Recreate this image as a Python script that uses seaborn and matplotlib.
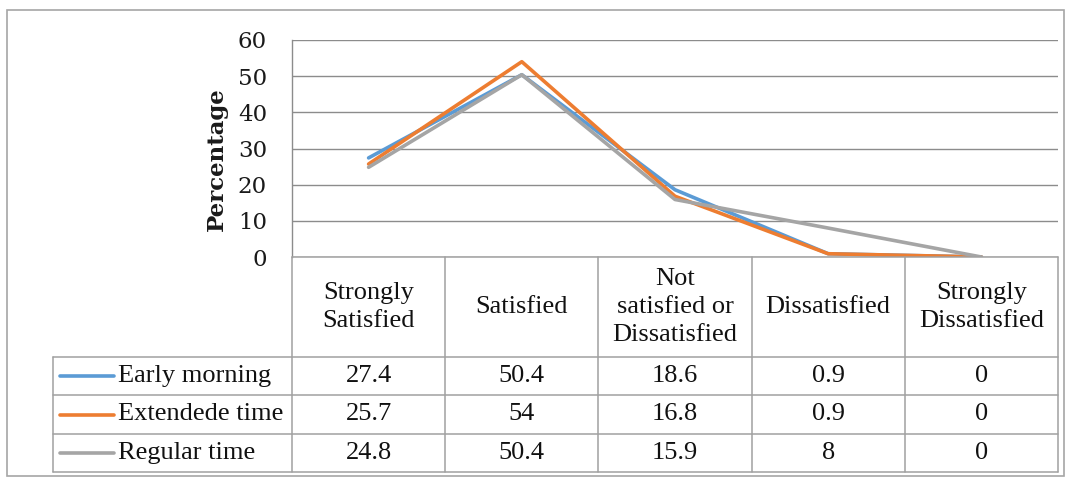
import matplotlib
matplotlib.use("Agg")
import matplotlib.pyplot as plt
import seaborn as sns
import pandas as pd
from matplotlib.patches import Rectangle

# --- data -------------------------------------------------------------
categories = ["Strongly\nSatisfied", "Satisfied", "Not\nsatisfied or\nDissatisfied",
              "Dissatisfied", "Strongly\nDissatisfied"]
series_names = ["Early morning", "Extendede time", "Regular time"]
early_morning = [27.4, 50.4, 18.6, 0.9, 0]
extended_time = [25.7, 54, 16.8, 0.9, 0]
regular_time = [24.8, 50.4, 15.9, 8, 0]
y_ticks = [0, 10, 20, 30, 40, 50, 60]
y_label = "Percentage"

colors = ["#5B9BD5", "#ED7D31", "#A5A5A5"]
series_values = [early_morning, extended_time, regular_time]

records = []
for name, vals in zip(series_names, series_values):
    for i, v in enumerate(vals):
        records.append({"series": name, "pos": i, "value": v})
df = pd.DataFrame(records)

# --- style ------------------------------------------------------------
sns.set_theme(style="white")
plt.rcParams["font.family"] = ["DejaVu Serif"]

W, H = 1072, 480
fig = plt.figure(figsize=(W / 100, H / 100), dpi=100)
fig.patch.set_facecolor("white")


def fx(px):
    return px / W


def fy(py):
    return 1 - py / H


grid_col = "#8C8C8C"
table_col = "#A0A0A0"
table_font = ["Liberation Serif", "DejaVu Serif"]

# chart frame
fig.patches.append(Rectangle((fx(7), fy(476)), fx(1064) - fx(7), fy(10) - fy(476),
                             transform=fig.transFigure, fill=False,
                             edgecolor="#A6A6A6", lw=1.2))

# --- line plot --------------------------------------------------------
pl, pr, pt, pb = 292, 1058, 40, 257
ax = fig.add_axes([fx(pl), fy(pb), fx(pr) - fx(pl), fy(pt) - fy(pb)])
sns.lineplot(data=df, x="pos", y="value", hue="series", hue_order=series_names,
             palette=colors, lw=2.6, ax=ax, legend=False, sort=False)
ax.set_xlim(-0.5, len(categories) - 0.5)
ax.set_ylim(0, 60)
ax.set_yticks(y_ticks)
ax.set_yticklabels([str(t) for t in y_ticks], fontsize=16.5, color="#1a1a1a")
ax.tick_params(axis="y", length=0, pad=18)
ax.set_xticks([])
ax.set_xlabel("")
ax.set_ylabel("")
ax.yaxis.grid(True, color=grid_col, lw=1)
ax.set_axisbelow(True)
for side in ["top", "right", "bottom"]:
    ax.spines[side].set_visible(False)
ax.spines["left"].set_color(grid_col)
ax.spines["left"].set_linewidth(1)

fig.text(fx(217), fy(159), y_label, rotation=90, ha="center", va="center",
         fontsize=16.5, fontweight="bold", color="#1a1a1a")

# --- data table -------------------------------------------------------
tb = 472
tax = fig.add_axes([fx(pl), fy(tb), fx(pr) - fx(pl), fy(pb) - fy(tb)])
tax.set_xlim(-0.5, len(categories) - 0.5)
tax.set_ylim(tb - pb, 0)
tax.axis("off")

col_px = (pr - pl) / len(categories)
legend_left = -0.5 - (pl - 53) / col_px
header_h = 100
row_h = (tb - pb - header_h) / len(series_names)
n = len(categories)

line_kw = dict(color=table_col, lw=1.1, clip_on=False)
# horizontal rules
tax.plot([-0.5, n - 0.5], [0, 0], **line_kw)
for r in range(len(series_names) + 1):
    y = header_h + r * row_h
    tax.plot([legend_left, n - 0.5], [y, y], **line_kw)
# vertical rules
for k in range(n + 1):
    tax.plot([-0.5 + k, -0.5 + k], [0, tb - pb], **line_kw)
tax.plot([legend_left, legend_left], [header_h, tb - pb], **line_kw)

# header cells
for i, cat in enumerate(categories):
    tax.text(i, header_h / 2, cat, ha="center", va="center", fontsize=19,
             family=table_font, linespacing=1.35, color="#111111")

# body rows with legend keys
sw_l = -0.5 - (pl - 60) / col_px
sw_r = -0.5 - (pl - 114) / col_px
txt_x = -0.5 - (pl - 118) / col_px
for r, (name, vals, c) in enumerate(zip(series_names, series_values, colors)):
    yc = header_h + (r + 0.5) * row_h
    tax.plot([sw_l, sw_r], [yc, yc], color=c, lw=2.6, clip_on=False,
             solid_capstyle="round")
    tax.text(txt_x, yc, name, ha="left", va="center", fontsize=19,
             family=table_font, color="#111111")
    for i, v in enumerate(vals):
        tax.text(i, yc, f"{v:g}", ha="center", va="center", fontsize=19,
                 family=table_font, color="#111111")

fig.savefig("out.png", dpi=100, facecolor="white")
